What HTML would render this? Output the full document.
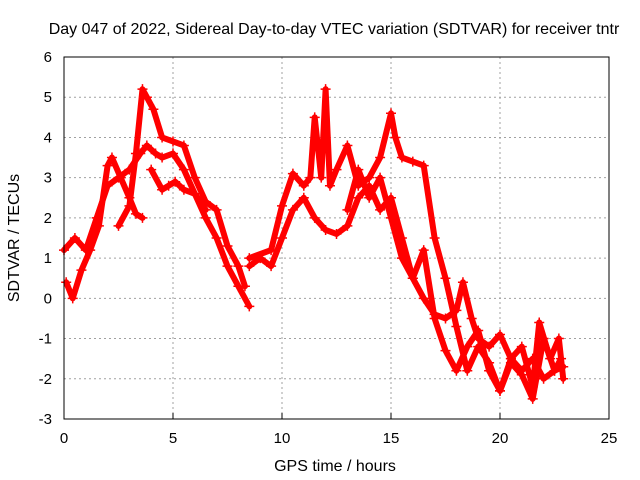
<!DOCTYPE html>
<html><head><meta charset="utf-8"><style>
body{margin:0;background:#fff;}
svg{display:block;font-family:"Liberation Sans",sans-serif;}
</style></head><body>
<svg id="chart" width="640" height="480">
<text x="334" y="34" font-size="16" text-anchor="middle">Day 047 of 2022, Sidereal Day-to-day VTEC variation (SDTVAR) for receiver tntr</text>
<text x="335" y="471" font-size="16" text-anchor="middle">GPS time / hours</text>
<text transform="translate(19,238) rotate(-90)" font-size="16" text-anchor="middle">SDTVAR / TECUs</text>
<g id="grid"></g><g id="marks"></g>
<rect x="64" y="57" width="545" height="362" fill="none" stroke="#000" stroke-width="1"/>
</svg>
<script>
const xTicks=[0,5,10,15,20,25];
const yTicks=[-3,-2,-1,0,1,2,3,4,5,6];
const s1T=[0,0.5,1,1.5,2,2.5,3,3.5,3.8,4.2,4.5,5,5.5,6,6.5,7,7.5,8,8.5];
const s1V=[1.2,1.5,1.2,2,2.8,3.0,3.2,3.6,3.8,3.6,3.5,3.6,3.2,2.6,2.0,1.5,0.8,0.3,-0.2];
const s2T=[0.1,0.4,0.8,1.2,1.6,2,2.2,2.6,3,3.3,3.6];
const s2V=[0.4,0,0.7,1.2,1.8,3.3,3.5,3.0,2.5,2.1,2.0];
const s3T=[2.5,3,3.3,3.6,3.8,4.1,4.5,5,5.5,6,6.5,7,7.5,8,8.3];
const s3V=[1.8,2.3,3.6,5.2,5.0,4.7,4.0,3.9,3.8,3.0,2.4,2.2,1.3,0.8,0.3];
const s4T=[4,4.5,4.8,5.1,5.5,6,6.5];
const s4V=[3.2,2.7,2.8,2.9,2.7,2.6,2.2];
const s5T=[8.5,9,9.5,10,10.5,11,11.5,12,12.5,13,13.5,14,14.5,15,15.5,16,16.5,17,17.5,18,18.3,18.7,19,19.5,20,20.5,21,21.5,22,22.5,22.8];
const s5V=[0.8,1.0,0.8,1.5,2.2,2.5,2.0,1.7,1.6,1.8,2.5,2.8,2.2,2.5,1.5,0.5,0,-0.4,-0.5,-0.3,0.4,-0.5,-1.0,-1.2,-0.9,-1.5,-1.8,-1.5,-2.0,-1.8,-1.5];
const s6T=[8.5,9.5,10,10.5,11,11.3,11.5,11.8,12,12.2,12.5,13,13.5,14,14.5,15,15.2,15.5,16,16.5,17,17.5,18,18.5,19,19.5,20,20.5,21,21.5,21.8,22.3,22.7,22.9];
const s6V=[1.0,1.2,2.3,3.1,2.8,3.0,4.5,3.0,5.2,2.8,3.2,3.8,2.8,3.0,3.5,4.6,4.0,3.5,3.4,3.3,1.5,0.5,-0.7,-1.8,-1.2,-1.6,-2.3,-1.5,-1.2,-2.2,-0.6,-1.5,-1.0,-2.0];
const s7T=[13,13.5,14,14.5,15,15.5,16,16.5,17,17.5,18,18.5,19,19.5,20,20.5,21,21.5,22,22.5,22.9];
const s7V=[2.2,3.2,2.5,3.0,2.0,1.0,0.5,1.2,-0.5,-1.3,-1.8,-1.2,-0.8,-1.8,-2.3,-1.6,-1.9,-2.5,-1.0,-1.8,-1.7];
const series=[[s1T,s1V],[s2T,s2V],[s3T,s3V],[s4T,s4V],[s5T,s5V],[s6T,s6V],[s7T,s7V]];
const X=t=>64+t*(545/25);
const Y=v=>419-(v+3)*(362/9);
const NS="http://www.w3.org/2000/svg";
const grid=document.getElementById('grid'),marks=document.getElementById('marks');
function mk(tag,at,p){const e=document.createElementNS(NS,tag);for(const k in at)e.setAttribute(k,at[k]);p.appendChild(e);return e;}
xTicks.forEach(t=>{
 if(t>0&&t<25){const l=mk('line',{x1:X(t),x2:X(t),y1:57,y2:419,stroke:'#a0a0a0','stroke-dasharray':'2,3'},grid);
 
 }
 const tk=mk('line',{x1:X(t),x2:X(t),y1:419,y2:413,stroke:'#000'},grid);
 
 
 const tx=mk('text',{x:X(t),y:443,'font-size':15,'text-anchor':'middle'},grid);tx.textContent=t;
 
 
});
yTicks.forEach(v=>{
 if(v>-3&&v<6){const l=mk('line',{x1:64,x2:609,y1:Y(v),y2:Y(v),stroke:'#a0a0a0','stroke-dasharray':'2,3'},grid);
 
 }
 const tx=mk('text',{x:52,y:Y(v)+5,'font-size':15,'text-anchor':'end'},grid);tx.textContent=v;
 
 
});
series.forEach(([T,V],i)=>{
 const pts=T.map((t,j)=>X(t)+','+Y(V[j])).join(' ');
 const pl=mk('polyline',{points:pts,fill:'none',stroke:'#f00','stroke-width':6,'stroke-linejoin':'round','stroke-linecap':'round'},marks);
 
 
 T.forEach((t,j)=>{
  const x=X(t),y=Y(V[j]);
  const p=mk('path',{d:`M${x-5},${y}H${x+5}M${x},${y-5}V${y+5}`,stroke:'#f00','stroke-width':1.5},marks);
  
  
 });
});
</script>
</body></html>
